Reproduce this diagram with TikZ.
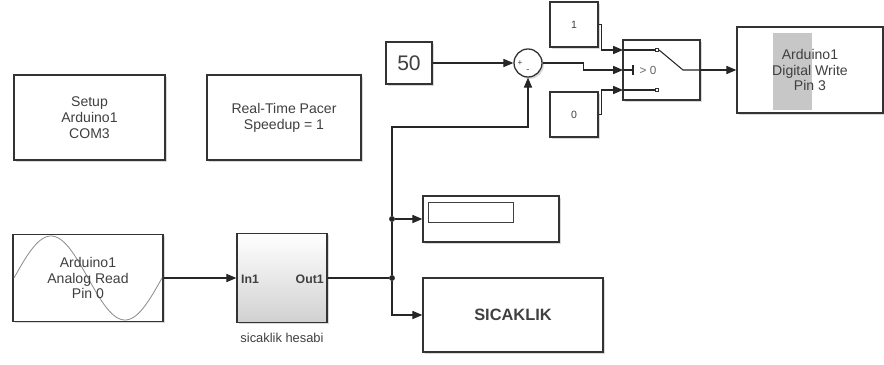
\documentclass[tikz,border=0pt]{standalone}
\usepackage{fontspec}
\setsansfont{Liberation Sans}
\usetikzlibrary{arrows.meta,shadows}

\tikzset{
  blk/.style={draw=black!80, line width=1.1pt, fill=white, inner sep=0pt, align=center,
    font=\sffamily\fontsize{12}{13.5}\selectfont, text=black!75,
    drop shadow={shadow xshift=1.6pt, shadow yshift=-1.6pt, opacity=0.3}},
  sz/.style 2 args={minimum width=#1*0.03cm, minimum height=#2*0.03cm},
  sig/.style={draw=black!85, line width=0.9pt},
  port/.style={sig, -{Triangle[length=8.5pt,width=7pt]}},
  dot/.style={circle, fill=black!85, inner sep=0pt, minimum size=5pt},
  pin/.style={draw=black!80, fill=white, line width=0.5pt, inner sep=0pt, minimum size=3pt},
  lbl/.style={text=black!75, inner sep=0pt, align=center},
}

\begin{document}
\begin{tikzpicture}[x=0.03cm, y=-0.03cm]
  \useasboundingbox (0,0) rectangle (884,365);

  % kurulum bloklari
  \node[blk, sz={151}{85}] (setup) at (89.5,117.5) {Setup\\Arduino1\\COM3};
  \node[blk, sz={154}{85}] (pacer) at (284,117.5) {Real-Time Pacer\\Speedup = 1};

  % sabitler
  \node[blk, sz={46}{42}, font=\sffamily\fontsize{18}{20}\selectfont] (c50) at (409,63) {50};
  \node[blk, sz={48}{45}, font=\sffamily\fontsize{9}{10}\selectfont] (c1) at (574,24.5) {1};
  \node[blk, sz={48}{45}, font=\sffamily\fontsize{9}{10}\selectfont] (c0) at (574,114.5) {0};

  % toplama
  \node[blk, circle, minimum size=0.84cm] (sum) at (528,63) {};
  \node[lbl, font=\sffamily\fontsize{7}{7}\selectfont] (plus) at (520,63) {+};
  \node[lbl, font=\sffamily\fontsize{8}{8}\selectfont] (minus) at (528,71) {-};

  % anahtar
  \node[blk, sz={77}{60}] (sw) at (661.5,70) {};
  \coordinate (sw1) at (623,50);
  \coordinate (sw2) at (623,70);
  \coordinate (sw3) at (623,90);
  \node[pin] (p1) at (657,50) {};
  \node[pin] (p3) at (657,90) {};
  \draw[sig] (sw1) -- (p1);
  \draw[sig] (sw3) -- (p3);
  \draw[sig] (p1.east) -- (683,70) -- (sw.east);
  \draw[sig] (sw2) -- (633,70);
  \draw[sig] (633,65) -- (633,75);
  \node[lbl, font=\sffamily\fontsize{10}{10}\selectfont, text=black!60] (thr) at (648,70) {> 0};

  % dijital cikis
  \node[blk, sz={146}{86}] (dw) at (810,70) {};
  \fill[black!22] (773,33) rectangle (812,110);
  \node[lbl, font=\sffamily\fontsize{12}{13.5}\selectfont] (dwtext) at (dw.center) {Arduino1\\Digital Write\\Pin 3};

  % analog giris
  \node[blk, sz={150}{87}] (aread) at (88,278) {};
  \draw[black!45, line width=0.7pt]
    plot[domain=14:162, samples=80, smooth] (\x,{278-42*sin((\x-14)*2.4324)});
  \node[lbl, font=\sffamily\fontsize{12}{13.5}\selectfont] (artext) at (aread.center) {Arduino1\\Analog Read\\Pin 0};

  % alt sistem
  \node[blk, sz={90}{89}, top color=white, bottom color=black!18] (sub) at (282,278) {};
  \node[lbl, anchor=west, font=\sffamily\bfseries\fontsize{10.5}{12}\selectfont] (in1) at (241,279) {In1};
  \node[lbl, anchor=east, font=\sffamily\bfseries\fontsize{10.5}{12}\selectfont] (out1) at (324,279) {Out1};
  \node[lbl, font=\sffamily\fontsize{11}{12}\selectfont] (subname) at (282,338) {sicaklik hesabi};

  % gosterge ve scope
  \node[blk, sz={136}{46}] (disp) at (491,219) {};
  \node[draw=black!75, line width=0.7pt, sz={85}{20}, inner sep=0pt, anchor=north west] (dval) at (428,202) {};
  \node[blk, sz={180}{74}, font=\sffamily\bfseries\fontsize{14}{16}\selectfont] (scope) at (513,315) {SICAKLIK};

  % dugumler
  \node[dot] (j1) at (392,278) {};
  \node[dot] (j2) at (392,219) {};
  \coordinate (k) at (392,127);

  % baglantilar
  \draw[port] (aread) -- (sub);
  \draw[sig] (sub.east) -- (j1);
  \draw[port] (j1) |- (scope.west);
  \draw[sig] (j1) -- (j2);
  \draw[port] (j2) -- (disp.west);
  \draw[port] (j2) -- (k) -| (sum.south);
  \draw[port] (c50) -- (sum);
  \draw[port] (sum.east) -- ++(41,0) |- (sw2);
  \draw[port] (c1.east) -- ++(3,0) |- (sw1);
  \draw[port] (c0.east) -- ++(3,0) |- (sw3);
  \draw[port] (sw) -- (dw);

\end{tikzpicture}
\end{document}
